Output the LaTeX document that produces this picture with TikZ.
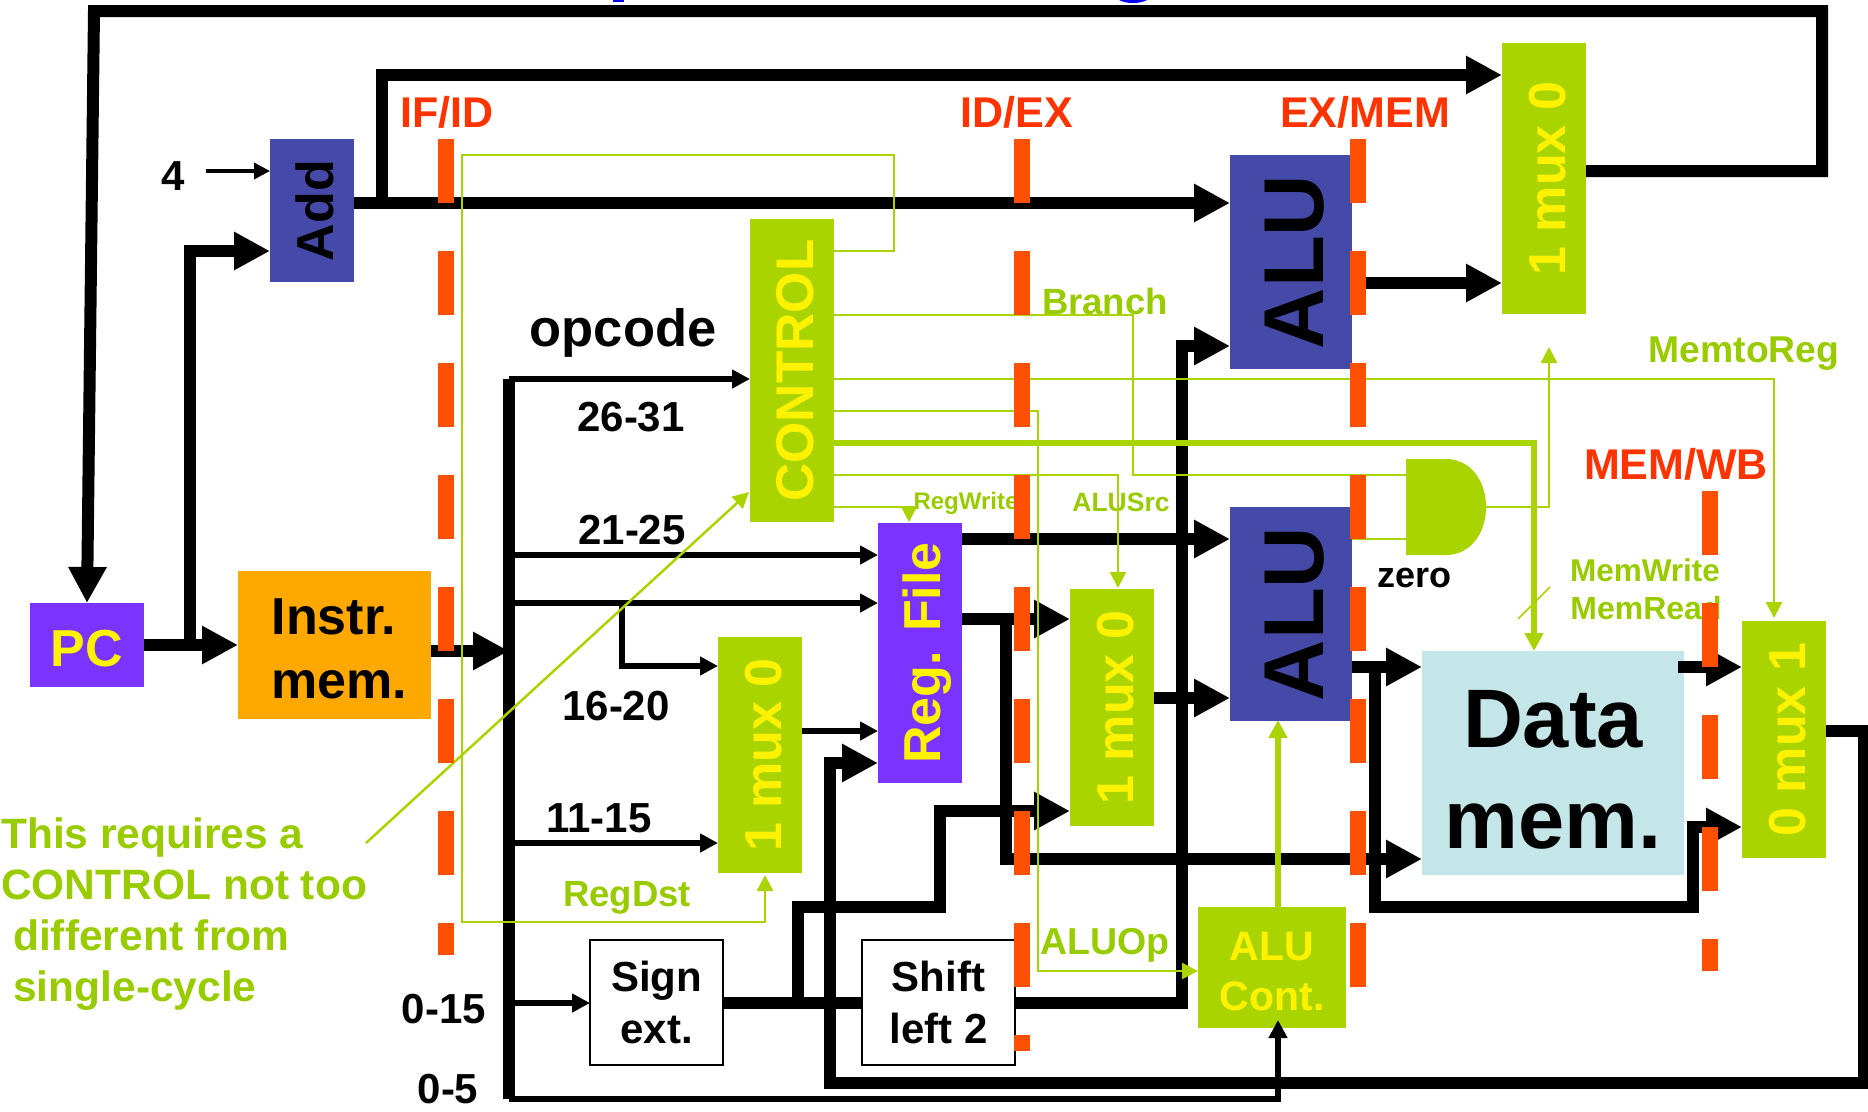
\documentclass[tikz,border=0pt]{standalone}
\usepackage{fontspec}
\setmainfont{Liberation Sans}
\usetikzlibrary{arrows.meta,calc}
\definecolor{pcpurple}{HTML}{7B33FF}
\definecolor{imorange}{HTML}{FFA800}
\definecolor{ctlgreen}{HTML}{AAD400}
\definecolor{txtgreen}{HTML}{99CC00}
\definecolor{alublue}{HTML}{4549A8}
\definecolor{regorange}{HTML}{FF4F00}
\definecolor{regred}{HTML}{FF3300}
\definecolor{memblue}{HTML}{C5E6E8}
\newcommand{\fsz}[2]{\fontsize{#1}{#2}\selectfont\bfseries}
\newcommand{\topgap}[1]{\rule{0pt}{#1pt}}
\tikzset{
  blk/.style={inner sep=0pt,outer sep=0pt,draw=none,align=center},
  vblk/.style={inner sep=0pt,outer sep=0pt,draw=none,rotate=90,text depth=0pt},
  busline/.style={line width=12pt,black},
  bus/.style={busline,-{Triangle[length=36pt,width=36pt]}},
  wireline/.style={line width=6.5pt,black},
  wire/.style={wireline,-{Triangle[length=18pt,width=18pt]}},
  finewire/.style={line width=3.5pt,black,-{Triangle[length=16pt,width=16pt]}},
  ctlline/.style={line width=2.5pt,ctlgreen},
  ctl/.style={ctlline,-{Triangle[length=16pt,width=16pt]}},
  ctlthick/.style={line width=5.5pt,ctlgreen,-{Triangle[length=18pt,width=18pt]}},
  lbl/.style={inner sep=0pt,anchor=base,align=center},
  regmark/.style={fill=regorange,draw=none},
  regtext/.style={lbl,text=regred,font=\fsz{43}{43}},
  bits/.style={lbl,text=black,font=\fsz{42}{42}},
  sig/.style={lbl,text=txtgreen},
}
\begin{document}
\begin{tikzpicture}[x=1pt,y=-1pt]
\useasboundingbox (0,0) rectangle (1868,1111);
\clip (0,0) rectangle (1868,1111);
% title fragments clipped at the top edge
\fill[blue] (613,0) rectangle (624,2);
\fill[blue] (1119,0) .. controls (1126,4) and (1140,4) .. (1147,0) -- cycle;

% blocks
\node[blk,fill=pcpurple,minimum width=114pt,minimum height=84pt,text=yellow,font=\fsz{52}{52},text height=42pt,text depth=0pt] (pc) at (87,645) {PC};
\node[blk,align=left,fill=imorange,minimum width=193pt,minimum height=148pt,text=black,font=\fsz{52}{64}] (imem) at (334.5,645) {\hspace*{10pt}\topgap{43}Instr.\\\hspace*{10pt}mem.};
\node[vblk,fill=alublue,minimum width=143pt,minimum height=84pt,text=black,font=\fsz{52}{52},text height=42pt] (add) at (312,210.5) {Add};
\node[vblk,fill=ctlgreen,minimum width=303pt,minimum height=84pt,text=yellow,font=\fsz{53}{53},text height=43pt] (control) at (792,370.5) {CONTROL};
\node[vblk,fill=alublue,minimum width=214pt,minimum height=122pt,text=black,font=\fsz{85}{85},text height=65pt] (alua) at (1291,262) {ALU};
\node[vblk,fill=alublue,minimum width=214pt,minimum height=122pt,text=black,font=\fsz{85}{85},text height=65pt] (alub) at (1291,614) {ALU};
\node[vblk,fill=ctlgreen,minimum width=271pt,minimum height=84pt,text=yellow,font=\fsz{52}{52},text height=42pt] (muxpc) at (1544,178.5) {1 mux 0};
\node[vblk,fill=ctlgreen,minimum width=237pt,minimum height=84pt,text=yellow,font=\fsz{52}{52},text height=42pt] (muxalu) at (1112,707.5) {1 mux 0};
\node[vblk,fill=ctlgreen,minimum width=236pt,minimum height=84pt,text=yellow,font=\fsz{52}{52},text height=42pt] (muxreg) at (760,755) {1 mux 0};
\node[vblk,fill=ctlgreen,minimum width=237pt,minimum height=84pt,text=yellow,font=\fsz{52}{52},text height=42pt] (muxwb) at (1784,739.5) {0 mux 1};
\node[vblk,fill=pcpurple,minimum width=260pt,minimum height=84pt,text=yellow,font=\fsz{52}{52},text height=41pt] (regfile) at (920,653) {Reg. File};
\node[blk,fill=memblue,minimum width=262pt,minimum height=224pt,text=black,font=\fsz{83}{101}] (dmem) at (1553,763) {\topgap{70}Data\\mem.};
\node[blk,fill=ctlgreen,minimum width=148pt,minimum height=121pt,text=yellow,font=\fsz{41}{50}] (aluc) at (1272,967.5) {\topgap{37}ALU\\Cont.};
\node[blk,fill=white,draw=black,line width=2pt,minimum width=133pt,minimum height=125pt,text=black,font=\fsz{42}{52}] (sign) at (656.5,1002) {Sign\\ext.};
\node[blk,fill=white,draw=black,line width=2pt,minimum width=153pt,minimum height=125pt,text=black,font=\fsz{42}{52}] (shift) at (938.5,1002) {Shift\\left 2};
% AND gate
\node[blk,minimum width=80pt,minimum height=96pt] (andg) at (1446,507) {};
\fill[ctlgreen] (andg.north west) -- (1446,459) .. controls (1470,459) and (1486,480) .. (andg.east) .. controls (1486,534) and (1470,555) .. (1446,555) -- (andg.south west) -- cycle;

% named junctions
\coordinate (pcj) at (190,645);
\coordinate (addj) at (382,203);
\coordinate (busj) at (509,651);
\coordinate (busl) at (509,603);
\coordinate (regj) at (1006,619);
\coordinate (aluj) at (1375,667);
\coordinate (signj) at (798,1003);

% thick black datapath
\draw[busline] (busj |- 0,379) -- (509,1099);
\draw[bus] (pc.east) -- (imem.west);
\draw[bus] (pcj) -- (190,251) -- (add.north |- 0,251);
\draw[bus] (add.south |- 0,203) -- (alua.north |- 0,203);
\draw[bus] (addj) -- (382,75) -- (muxpc.north |- 0,75);
\draw[bus] (1365,283) -- (muxpc.north |- 0,283);
\draw[bus] (muxpc.south |- 0,171) -- (1822,171) -- (1822,11) -- (94,11) -- (pc.north);
\draw[bus] (imem.east |- busj) -- (busj);
\draw[bus] (regfile.south |- 0,539) -- (alub.north |- 0,539);
\draw[bus] (regfile.south |- regj) -- (muxalu.north |- regj);
\draw[bus] (regj) -- (1006,859) -- (dmem.west |- 0,859);
\draw[bus] (muxalu.south |- 0,698) -- (alub.north |- 0,698);
\draw[bus] (alub.south |- aluj) -- (dmem.west |- aluj);
\draw[bus] (aluj) -- (1375,907) -- (1693,907) -- (1693,827) -- (muxwb.north |- 0,827);
\draw[bus] (1678,667) -- (muxwb.north |- 0,667);
\draw[bus] (muxwb.south |- 0,731) -- (1864,731) -- (1864,1083) -- (830,1083) -- (830,763) -- (regfile.north |- 0,763);
\draw[busline] (sign.east |- signj) -- (shift.west |- signj);
\draw[bus] (signj) -- (798,907) -- (940,907) -- (940,811) -- (muxalu.north |- 0,811);
\draw[bus] (shift.east |- 0,1003) -- (1182,1003) -- (1182,346) -- (alua.north |- 0,346);

% thin black wires
\draw[finewire] (206,171) -- (add.north |- 0,171);
\draw[wire] (busj |- 0,379) -- (control.north |- 0,379);
\draw[wire] (busj |- 0,555) -- (regfile.north |- 0,555);
\draw[wire] (busl) -- (regfile.north |- busl);
\draw[wire] (622,603) -- (622,666) -- (muxreg.north |- 0,666);
\draw[wire] (busj |- 0,843) -- (muxreg.north |- 0,843);
\draw[wire] (muxreg.south |- 0,731) -- (regfile.north |- 0,731);
\draw[wire] (busj |- 0,1003) -- (sign.west |- 0,1003);
\draw[wire] (busj |- 0,1099) -- (1278,1099) -- (1278,1020);

% text under the pipeline bars
\node[sig,font=\fsz{31.5}{31.5}] (memwrite) at (1645,581) {MemWrite};
\node[sig,font=\fsz{32}{32}] (memread) at (1646,619) {MemRead};
\node[sig,font=\fsz{24}{24}] (regwrite) at (966,509) {RegWrite};
\node[sig,font=\fsz{26.5}{26.5}] (alusrc) at (1121,511) {ALUSrc};
\node[sig,font=\fsz{36.5}{36.5}] (branch) at (1105,314) {Branch};
\node[sig,font=\fsz{37.3}{37.3}] (memtoreg) at (1744,362) {MemtoReg};
\node[sig,font=\fsz{37.5}{37.5}] (aluop) at (1105,954) {ALUOp};
\node[sig,font=\fsz{36.5}{36.5}] (regdst) at (627,906) {RegDst};

% green control lines
\draw[ctl] (control.south |- 0,251) -- (894,251) -- (894,155) -- (462,155) -- (462,922) -- (765,922) -- (765,875);
\draw[ctlline] (control.south |- 0,315) -- (1133,315) -- (1133,475) -- (andg.west |- 0,475);
\draw[ctl] (control.south |- 0,379) -- (1774,379) -- (1774,618);
\draw[ctl] (control.south |- 0,411) -- (1038,411) -- (1038,971) -- (aluc.west |- 0,971);
\draw[ctlthick] (control.south |- 0,443) -- (1534,443) -- (1534,651);
\draw[ctl] (control.south |- 0,475) -- (1118,475) -- (1118,588);
\draw[ctl] (control.south |- 0,507) -- (909,507) -- (909,522);
\draw[ctlline] (alub.south |- 0,539) -- (andg.west |- 0,539);
\draw[ctl] (andg.east) -- (1549,507) -- (1549,347);
\draw[line width=1.5pt,ctlgreen] (1550,587) -- (1518,619);
\draw[ctlthick] (aluc.north -| 1278,0) -- (1278,720);
\coordinate (note) at (366,843);
\draw[ctl] (note) -- (749,492);

% pipeline register bars
\foreach \x/\last in {438/955,1014/987,1350/987}{
  \foreach \y in {139,251,363,475,587,699,811}{
    \fill[regmark] (\x,\y) rectangle (\x+16,\y+64);
  }
  \fill[regmark] (\x,923) rectangle (\x+16,\last);
}
\fill[regmark] (1014,1035) rectangle (1030,1051);
\foreach \y in {491,603,715,827}{
  \fill[regmark] (1702,\y) rectangle (1718,\y+64);
}
\fill[regmark] (1702,939) rectangle (1718,971);

% labels
\node[regtext] (ifid) at (447,127) {IF/ID};
\node[regtext] (idex) at (1017,127) {ID/EX};
\node[regtext] (exmem) at (1365,127) {EX/MEM};
\node[regtext] (memwb) at (1676,479) {MEM/WB};
\node[bits] (four) at (173,190) {4};
\node[lbl,text=black,font=\fsz{52.5}{52.5}] (opcode) at (623,346) {opcode};
\node[bits] (b2631) at (631,431) {26-31};
\node[bits] (b2125) at (632,544) {21-25};
\node[bits] (b1620) at (616,720) {16-20};
\node[bits] (b1115) at (599,832) {11-15};
\node[bits] (b015) at (444,1023) {0-15};
\node[bits] (b05) at (448,1103) {0-5};
\node[lbl,text=black,font=\fsz{36}{36}] (zero) at (1414,587) {zero};
\node[inner sep=0pt,anchor=north west,align=left,text=txtgreen,font=\fsz{42.5}{51}] (notetext) at (1,817) {This requires a\\CONTROL not too\\\hspace*{12pt}different from\\\hspace*{12pt}single-cycle};
\end{tikzpicture}
\end{document}
